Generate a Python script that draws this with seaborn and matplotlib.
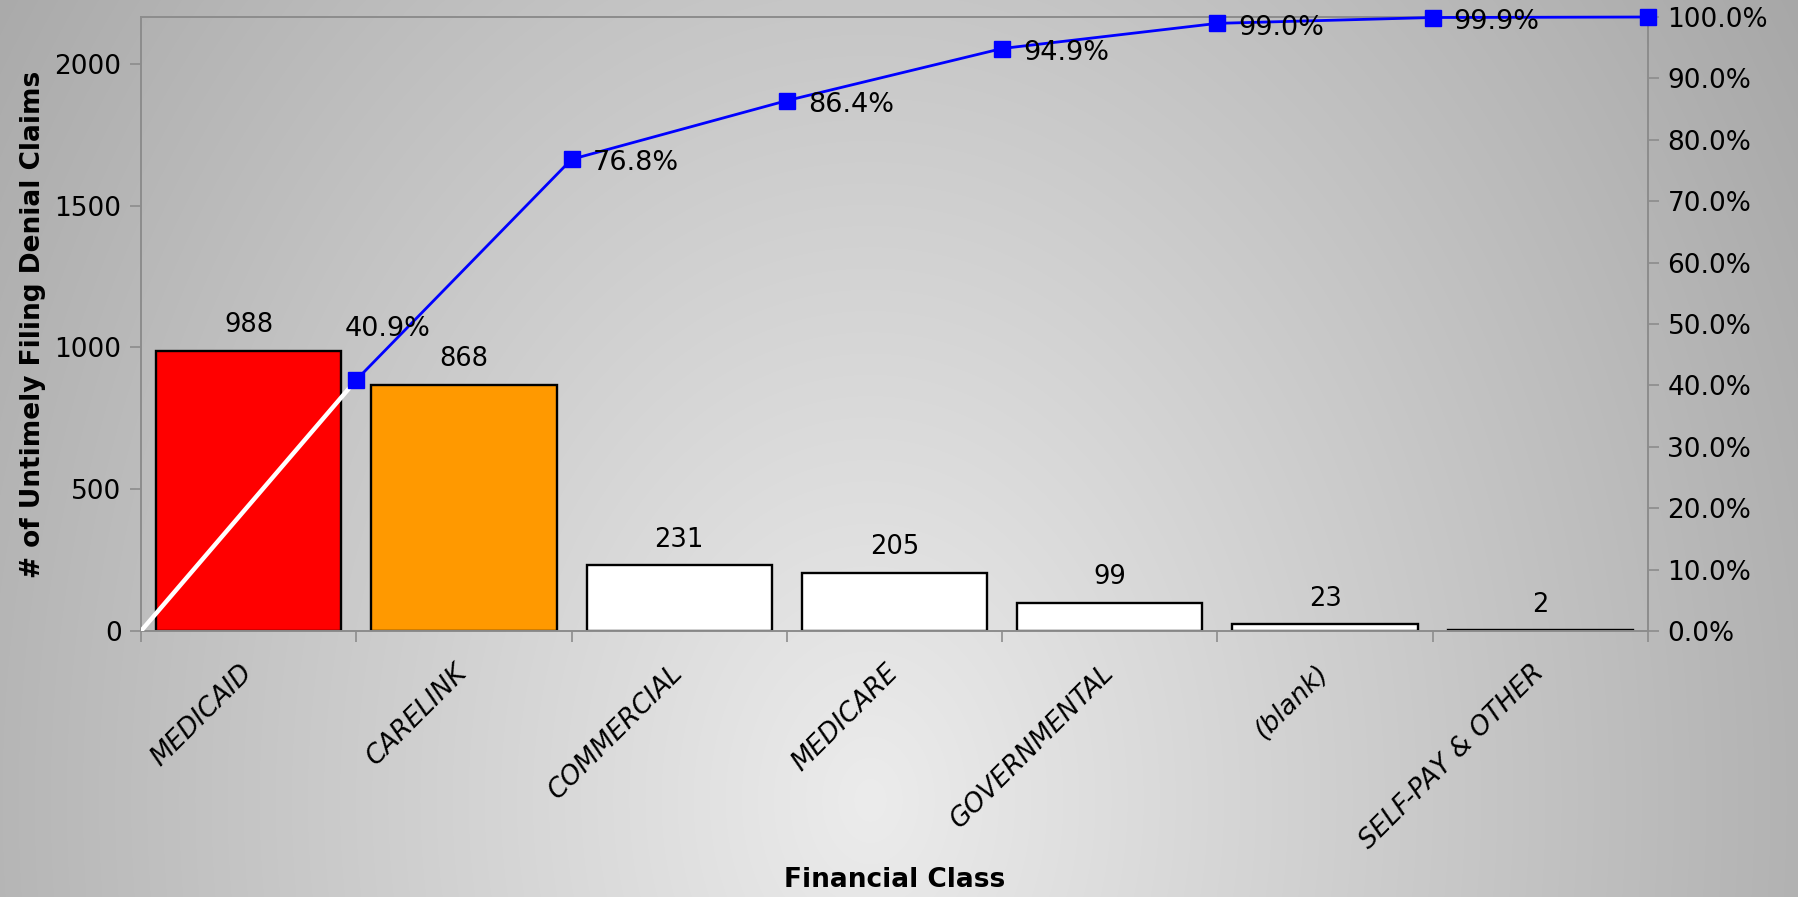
import numpy as np
import pandas as pd
import matplotlib
matplotlib.use("Agg")
import matplotlib.pyplot as plt
from matplotlib.ticker import FixedLocator, PercentFormatter
import seaborn as sns

# ---- data -------------------------------------------------------------
categories = ["MEDICAID", "CARELINK", "COMMERCIAL", "MEDICARE",
              "GOVERNMENTAL", "(blank)", "SELF-PAY & OTHER"]
claims = [988, 868, 231, 205, 99, 23, 2]
bar_colors = ["#FF0000", "#FF9900", "#FFFFFF", "#FFFFFF",
              "#FFFFFF", "#FFFFFF", "#FFFFFF"]
count_ticks = [0, 500, 1000, 1500, 2000]
pct_ticks = [0.0, 0.1, 0.2, 0.3, 0.4, 0.5, 0.6, 0.7, 0.8, 0.9, 1.0]

df = pd.DataFrame({"cls": categories, "n": claims})
total = df["n"].sum()
df["cum"] = df["n"].cumsum() / total

sns.set_theme(style="white")
plt.rcParams["font.family"] = ["DejaVu Sans"]
plt.rcParams["text.color"] = "black"
plt.rcParams["axes.labelcolor"] = "black"
plt.rcParams["xtick.color"] = "black"
plt.rcParams["ytick.color"] = "black"

W, H = 1798, 897
fig = plt.figure(figsize=(W / 100, H / 100), dpi=100)

# ---- soft radial backdrop ------------------------------------------------
bg = fig.add_axes([0, 0, 1, 1], zorder=-10)
yy, xx = np.mgrid[0:H, 0:W]
r = np.sqrt(((xx - 870) / 900.0) ** 2 + ((yy - 800) / 1190.0) ** 2)
shade = np.clip(236 - 56 * r, 165, 240) / 255.0
bg.imshow(np.dstack([shade] * 3), aspect="auto", extent=[0, 1, 0, 1],
          origin="upper", interpolation="bilinear")
bg.set_axis_off()

ax = fig.add_axes([141 / W, 1 - 631 / H, (1648 - 141) / W, (631 - 17) / H])
ax.set_facecolor("none")

sns.barplot(data=df, x="cls", y="n", hue="cls", palette=bar_colors,
            legend=False, edgecolor="black", linewidth=1.7, width=0.86,
            saturation=1, ax=ax)

ax.set_xlim(-0.5, len(categories) - 0.5)
ax.set_ylim(0, 2165)
ax.yaxis.set_major_locator(FixedLocator(count_ticks))

spine_gray = "#8C8C8C"
for s in ax.spines.values():
    s.set_color(spine_gray)
    s.set_linewidth(1.2)

# count labels above bars
for i, v in enumerate(df["n"]):
    ax.annotate(f"{v}", (i, v), xytext=(0, 9), textcoords="offset points",
                ha="center", va="bottom", fontsize=18.5, color="black")

# category labels at centres, tick marks at boundaries
ax.set_xticks(range(len(categories)))
ax.set_xticklabels(categories, rotation=45, ha="right", va="center",
                   rotation_mode="anchor", fontsize=19, style="italic")
ax.set_xticks(np.arange(-0.5, len(categories)), minor=True)
ax.tick_params(axis="x", which="major", length=0, pad=27)
ax.tick_params(axis="x", which="minor", length=8, width=1.2,
               color=spine_gray, direction="out", bottom=True)
ax.tick_params(axis="y", which="major", length=8, width=1.2,
               color=spine_gray, labelcolor="black", direction="out",
               left=True, labelsize=19, pad=6)

ax.set_xlabel("Financial Class", fontsize=19, fontweight="bold")
ax.xaxis.set_label_coords(0.5, -0.385)
ax.set_ylabel("# of Untimely Filing Denial Claims", fontsize=19,
              fontweight="bold", labelpad=6)

# ---- cumulative percentage (Pareto) --------------------------------------
ax2 = ax.twinx()
ax2.set_ylim(0, 1)
ax2.yaxis.set_major_locator(FixedLocator(pct_ticks))
ax2.yaxis.set_major_formatter(PercentFormatter(1.0, decimals=1))
ax2.tick_params(axis="y", length=8, width=1.2, color=spine_gray,
                labelcolor="black", direction="out", right=True,
                labelsize=19, pad=6)
for s in ax2.spines.values():
    s.set_color(spine_gray)
    s.set_linewidth(1.2)

xpos = np.arange(len(categories)) + 0.5
ax2.plot([-0.5, xpos[0]], [0, df["cum"].iloc[0]], color="white", lw=3.2,
         solid_capstyle="butt", zorder=3)
ax2.plot(xpos, df["cum"], color="#0000FF", lw=2.0, marker="s",
         markersize=11, markeredgecolor="#0000FF", zorder=4, clip_on=False)

offsets = {0: (-8, 37)}
for i, (x, c) in enumerate(zip(xpos, df["cum"])):
    if i == len(xpos) - 1:
        continue
    dx, dy = offsets.get(i, (15, -3))
    ax2.annotate(f"{c * 100:.1f}%", (x, c), xytext=(dx, dy),
                 textcoords="offset points", ha="left", va="center",
                 fontsize=19.5, color="black", zorder=5)

ax.set_xlim(-0.5, len(categories) - 0.5)
ax2.set_xlim(-0.5, len(categories) - 0.5)

fig.savefig("out.png", dpi=100)
